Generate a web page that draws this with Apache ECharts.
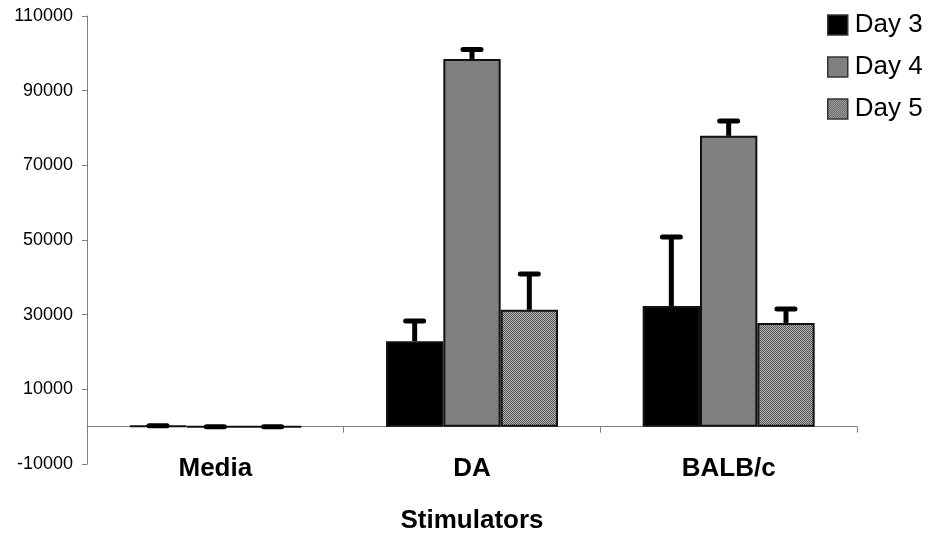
<!DOCTYPE html>
<html>
<head>
<meta charset="utf-8">
<script src="https://cdn.jsdelivr.net/npm/echarts@6/dist/echarts.min.js"></script>
<style>
  html, body { margin: 0; padding: 0; background: #fff; }
  #main { width: 936px; height: 538px; }
</style>
</head>
<body>
<div id="main"></div>
<script>
var categories = ['Media', 'DA', 'BALB/c'];
var seriesNames = ['Day 3', 'Day 4', 'Day 5'];
// mean values per day
var day3 = [250, 22900, 32300];
var day4 = [0, 98500, 77900];
var day5 = [0, 31300, 27800];
// top of the error bars
var day3Err = [250, 28300, 50800];
var day4Err = [0, 101000, 81900];
var day5Err = [0, 40900, 31500];
var yTicks = [-10000, 110000, 20000]; // min, max, interval

// fine checker fill for Day 5
var pat = document.createElement('canvas');
pat.width = 2;
pat.height = 2;
var pctx = pat.getContext('2d');
pctx.fillStyle = '#b4b4b4';
pctx.fillRect(0, 0, 2, 2);
pctx.fillStyle = '#555555';
pctx.fillRect(0, 0, 1, 1);
pctx.fillRect(1, 1, 1, 1);

var fills = ['#000000', '#808080', { image: pat, repeat: 'repeat' }];
var means = [day3, day4, day5];
var tops = [day3Err, day4Err, day5Err];
var gapPct = 33;

var series = [];
for (var i = 0; i < 3; i++) {
  series.push({
    name: seriesNames[i],
    type: 'bar',
    barGap: 0,
    barCategoryGap: gapPct + '%',
    itemStyle: { color: fills[i], borderColor: '#111', borderWidth: 2 },
    data: means[i]
  });
}

// error bars, one custom series per day
for (var j = 0; j < 3; j++) {
  (function(k) {
    var errData = [];
    for (var c = 0; c < categories.length; c++) {
      errData.push([c, means[k][c], tops[k][c]]);
    }
    series.push({
      type: 'custom',
      name: seriesNames[k] + ' err',
      z: 5,
      silent: true,
      renderItem: function(params, api) {
        var cat = api.value(0);
        var lo = api.coord([cat, api.value(1)]);
        var hi = api.coord([cat, api.value(2)]);
        var catW = api.size([1, 0])[0];
        var barW = catW * (1 - gapPct / 100) / 3;
        var x = lo[0] + (k - 1) * barW;
        var style = { stroke: '#000', lineWidth: 5, lineCap: 'round' };
        return {
          type: 'group',
          children: [
            { type: 'line', shape: { x1: x, y1: lo[1], x2: x, y2: hi[1] }, style: { stroke: '#000', lineWidth: 5 } },
            { type: 'line', shape: { x1: x - 9, y1: hi[1], x2: x + 9, y2: hi[1] }, style: style }
          ]
        };
      },
      data: errData
    });
  })(j);
}

var chart = echarts.init(document.getElementById('main'));
chart.setOption({
  animation: false,
  textStyle: { fontFamily: 'Liberation Sans, Arial, sans-serif' },
  grid: { left: 87, right: 79, top: 16, bottom: 74, outerBoundsMode: 'none', containLabel: false },
  legend: {
    data: seriesNames,
    orient: 'vertical',
    left: 822,
    top: 7,
    icon: 'rect',
    itemWidth: 20,
    itemHeight: 20,
    itemGap: 16,
    itemStyle: { borderColor: '#333', borderWidth: 1.5 },
    textStyle: { fontSize: 26, color: '#000', padding: [0, 0, 0, 2] }
  },
  xAxis: {
    type: 'category',
    data: categories,
    name: 'Stimulators',
    nameLocation: 'middle',
    nameGap: 44,
    nameTextStyle: { fontSize: 26, fontWeight: 'bold', color: '#000' },
    axisLine: { onZero: true, lineStyle: { color: '#808080', width: 1 } },
    axisTick: { show: true, length: 6, lineStyle: { color: '#808080' } },
    axisLabel: { margin: -8, fontSize: 26, fontWeight: 'bold', color: '#000' }
  },
  yAxis: {
    type: 'value',
    min: yTicks[0],
    max: yTicks[1],
    interval: yTicks[2],
    splitLine: { show: false },
    axisLine: { show: true, lineStyle: { color: '#808080', width: 1 } },
    axisTick: { show: true, length: 5, lineStyle: { color: '#808080' } },
    axisLabel: { margin: 14, fontSize: 18, color: '#000', formatter: function(v) { return String(v); } }
  },
  series: series
});
</script>
</body>
</html>
